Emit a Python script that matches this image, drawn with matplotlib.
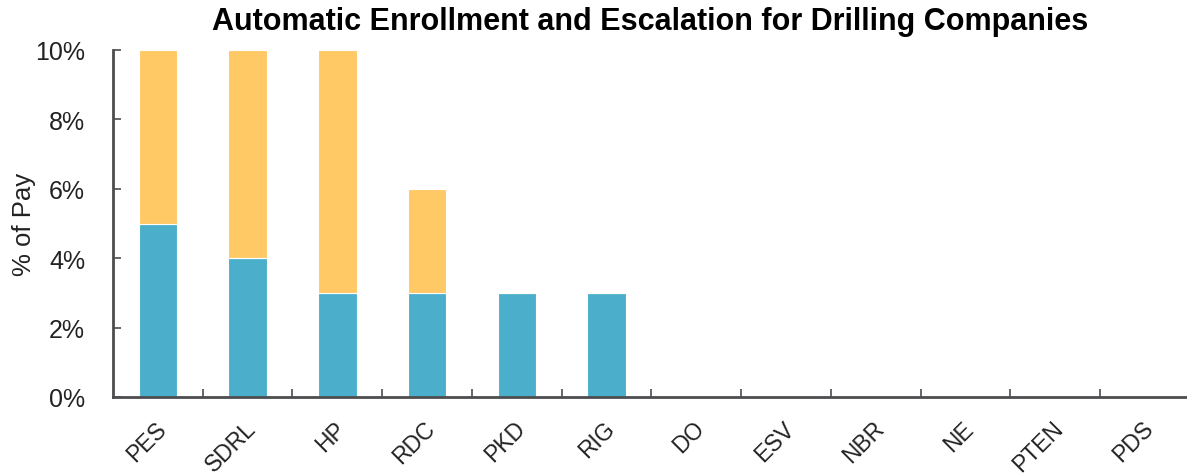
import matplotlib
matplotlib.use("Agg")
import matplotlib.pyplot as plt
import numpy as np

companies = ["PES", "SDRL", "HP", "RDC", "PKD", "RIG", "DO", "ESV", "NBR", "NE", "PTEN", "PDS"]
auto_enroll = [5, 4, 3, 3, 3, 3, 0, 0, 0, 0, 0, 0]
auto_escalation = [5, 6, 7, 3, 0, 0, 0, 0, 0, 0, 0, 0]
yticks = [0, 2, 4, 6, 8, 10]

plt.rcParams["font.family"] = ["Liberation Sans", "DejaVu Sans"]

fig = plt.figure(figsize=(11.87, 4.77), dpi=100)
ax_w = (1190 - 113) / 1187
ax = fig.add_axes([113 / 1187, 79 / 477, ax_w, 347 / 477])

x = np.arange(len(companies))
ax.bar(x, auto_enroll, width=0.43, color="#4BAFCB", edgecolor="white", linewidth=0.8)
ax.bar(x, auto_escalation, bottom=auto_enroll, width=0.43, color="#FFC966",
       edgecolor="white", linewidth=0.8)

ax.set_xlim(-0.5, len(companies) - 0.5)
ax.set_ylim(0, 10)
ax.set_yticks(yticks)
ax.set_yticklabels([f"{v}%" for v in yticks], fontsize=18, color="#222222")
ax.set_xticks(x - 0.04)
ax.set_xticklabels(companies, rotation=45, ha="right", rotation_mode="anchor",
                   fontsize=16.5, color="#222222")
ax.tick_params(axis="x", which="major", length=0, pad=14)
ax.set_xticks(np.arange(len(companies)) + 0.5, minor=True)
ax.tick_params(axis="x", which="minor", direction="in", length=6, width=1.2, color="#4D4D4F")
ax.tick_params(axis="y", direction="in", length=6, width=1.2, color="#4D4D4F", pad=20)

for s in ["top", "right"]:
    ax.spines[s].set_visible(False)
for s in ["left", "bottom"]:
    ax.spines[s].set_color("#4D4D4F")
    ax.spines[s].set_linewidth(2)

ax.set_ylabel("% of Pay", fontsize=18.5, color="#222222")
ax.yaxis.set_label_coords((36 - 113) / 1077, 0.5)
ax.set_title("Automatic Enrollment and Escalation for Drilling Companies",
             fontsize=22, fontweight="bold", pad=15, x=(650 - 113) / (1190 - 113))

fig.savefig("out.png", dpi=100)
